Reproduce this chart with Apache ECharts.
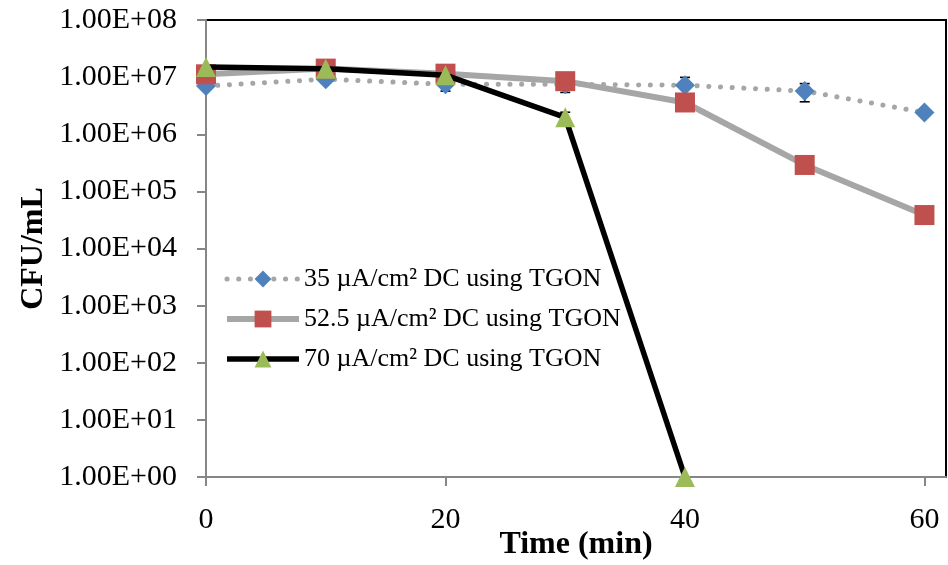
<!DOCTYPE html>
<html>
<head>
<meta charset="utf-8">
<script src="https://cdn.jsdelivr.net/npm/echarts@6/dist/echarts.min.js"></script>
<style>
html,body{margin:0;padding:0;background:#fff;}
#chart{width:948px;height:565px;}
</style>
</head>
<body>
<div id="chart"></div>
<script>
// ---- data ----
var times = [0, 10, 20, 30, 40, 50, 60];
var names = ['35 \u00B5A/cm\u00B2 DC using TGON', '52.5 \u00B5A/cm\u00B2 DC using TGON', '70 \u00B5A/cm\u00B2 DC using TGON'];
var cfu35 = [7.0e6, 9.2e6, 7.5e6, 7.5e6, 7.2e6, 5.7e6, 2.4e6];
var err35 = [0, 0, 1.8e6, 2.1e6, 2.7e6, 2.0e6, 0];
var cfu52 = [1.12e7, 1.41e7, 1.15e7, 8.5e6, 3.6e6, 2.9e5, 3.85e4];
var cfu70 = [1.51e7, 1.40e7, 1.08e7, 1.98e6, 1];
var err70 = [0, 0, 0, 0.45e6, 0];
var xTicks = [0, 20, 40, 60];
var yTickLabels = ['1.00E+00','1.00E+01','1.00E+02','1.00E+03','1.00E+04','1.00E+05','1.00E+06','1.00E+07','1.00E+08'];

var FONT = "'Liberation Serif','Times New Roman',serif";
function pairs(vals){ return vals.map(function(v,i){ return [times[i], v]; }); }
function errData(vals, errs){
  var out = [];
  vals.forEach(function(v,i){ if (errs[i] > 0) out.push([times[i], v, errs[i]]); });
  return out;
}
function errRender(params, api){
  var x = api.value(0), v = api.value(1), e = api.value(2);
  var lo = api.coord([x, v - e]);
  var hi = api.coord([x, v + e]);
  var hw = 5;
  var st = {stroke:'#000', lineWidth:1.6};
  return {type:'group', children:[
    {type:'line', shape:{x1:lo[0], y1:lo[1], x2:hi[0], y2:hi[1]}, style:st},
    {type:'line', shape:{x1:lo[0]-hw, y1:lo[1], x2:lo[0]+hw, y2:lo[1]}, style:st},
    {type:'line', shape:{x1:hi[0]-hw, y1:hi[1], x2:hi[0]+hw, y2:hi[1]}, style:st}
  ]};
}

var dotted = {color:'#A6A6A6', width:5, type:[0.1, 11.6], cap:'round'};
var graySolid = {color:'#A6A6A6', width:6};
var blackSolid = {color:'#000000', width:5.5};

var chart = echarts.init(document.getElementById('chart'), null, {renderer:'canvas'});
chart.setOption({
  animation:false,
  backgroundColor:'#fff',
  grid:{left:206, right:2, top:20, bottom:88, show:true, borderColor:'#000', borderWidth:2,
        backgroundColor:'#fff', containLabel:false, outerBoundsMode:'none'},
  legend:{
    orient:'vertical', left:219, top:261, itemWidth:72, itemHeight:21, itemGap:14,
    data:[
      {name:names[0], lineStyle:dotted},
      {name:names[1], lineStyle:graySolid},
      {name:names[2], lineStyle:blackSolid}
    ],
    textStyle:{fontFamily:FONT, fontSize:26, color:'#000'}
  },
  xAxis:{
    type:'value', min:0, max:61.8,
    name:'Time (min)', nameLocation:'middle', nameGap:52, nameMoveOverlap:false,
    nameTextStyle:{fontFamily:FONT, fontSize:32, fontWeight:'bold', color:'#000'},
    axisLine:{show:true, lineStyle:{color:'#868686', width:2}},
    axisTick:{show:true, inside:false, length:9, lineStyle:{color:'#868686', width:2}, customValues:xTicks},
    axisLabel:{fontFamily:FONT, fontSize:30, color:'#000', margin:28, customValues:xTicks},
    splitLine:{show:false}
  },
  yAxis:{
    type:'log', logBase:10, min:1, max:1e8, interval:1, splitNumber:8,
    name:'CFU/mL', nameLocation:'middle', nameGap:156, nameRotate:90, nameMoveOverlap:false,
    nameTextStyle:{fontFamily:FONT, fontSize:32, fontWeight:'bold', color:'#000'},
    axisLine:{show:true, lineStyle:{color:'#868686', width:2}},
    axisTick:{show:true, inside:false, length:9, lineStyle:{color:'#868686', width:2}},
    axisLabel:{fontFamily:FONT, fontSize:30, color:'#000', margin:29,
      formatter:function(v){ var e = Math.round(Math.log10(v)); return yTickLabels[e]; }},
    splitLine:{show:false}
  },
  series:[
    {type:'custom', name:'err35', renderItem:errRender, data:errData(cfu35, err35), z:1, silent:true},
    {type:'custom', name:'err70', renderItem:errRender, data:errData(cfu70, err70), z:1, silent:true},
    {
      type:'line', name:names[0], data:pairs(cfu35), z:2, clip:false,
      symbol:'diamond', symbolSize:20,
      lineStyle:dotted,
      itemStyle:{color:'#4F81BD'}
    },
    {
      type:'line', name:names[1], data:pairs(cfu52), z:3, clip:false,
      symbol:'rect', symbolSize:20,
      lineStyle:graySolid,
      itemStyle:{color:'#C0504D'}
    },
    {
      type:'line', name:names[2], data:pairs(cfu70), z:4, clip:false,
      symbol:'triangle', symbolSize:20,
      lineStyle:blackSolid,
      itemStyle:{color:'#9BBB59'}
    }
  ]
});
</script>
</body>
</html>
